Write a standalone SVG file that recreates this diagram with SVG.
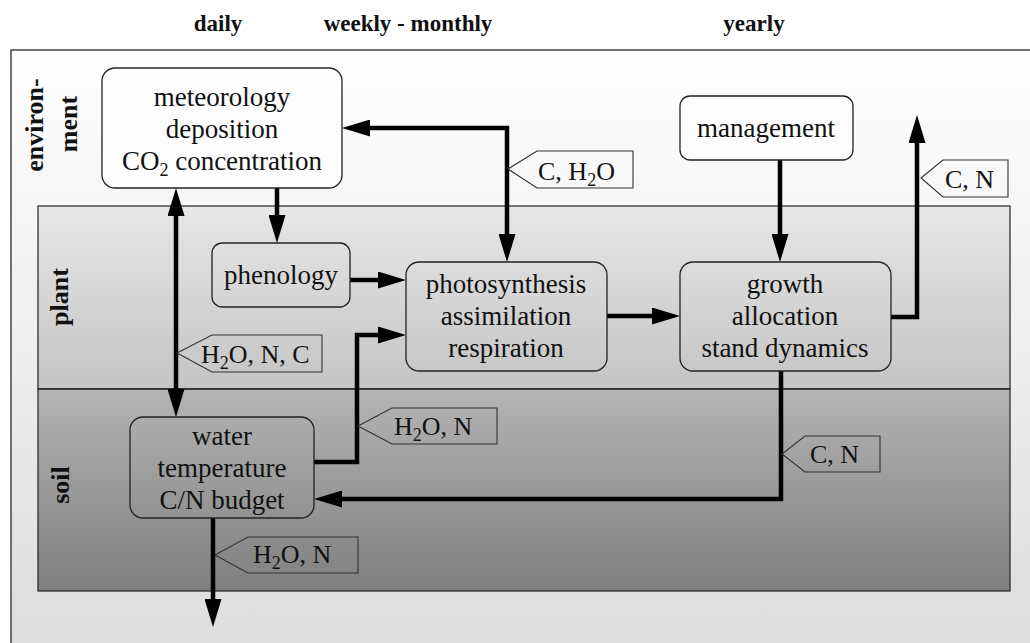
<svg xmlns="http://www.w3.org/2000/svg" width="1030" height="643" viewBox="0 0 1030 643">
<defs>
<linearGradient id="gEnv" x1="0" y1="0" x2="0" y2="1"><stop offset="0" stop-color="#ffffff"/><stop offset="1" stop-color="#dcdcdc"/></linearGradient>
<linearGradient id="gPlant" x1="0" y1="0" x2="0" y2="1"><stop offset="0" stop-color="#e7e7e7"/><stop offset="1" stop-color="#c4c4c4"/></linearGradient>
<linearGradient id="gSoil" x1="0" y1="0" x2="0" y2="1"><stop offset="0" stop-color="#b4b4b4"/><stop offset="1" stop-color="#7f7f7f"/></linearGradient>
<marker id="ah" viewBox="0 0 28 17" markerWidth="28" markerHeight="17" refX="4" refY="8.5" orient="auto-start-reverse" markerUnits="userSpaceOnUse"><path d="M0,0 L28,8.5 L0,17 z" fill="#000"/></marker>
</defs>
<style>
text{font-family:"Liberation Serif","Times New Roman",serif;fill:#111}
.hdr{font-weight:bold;font-size:23px;text-anchor:middle}
.side{font-weight:bold;font-size:26px;text-anchor:middle}
.t{font-size:27px;text-anchor:middle}
.lbl{font-size:26px;text-anchor:start}
.sub{font-size:18px}
.box{stroke:#222;stroke-width:1.3;fill:none}
.wbox{stroke:#222;stroke-width:1.3;fill:#fdfdfd}
.tag{stroke:#333;stroke-width:1.1;fill:none}
.con{stroke:#000;stroke-width:4.5;fill:none;marker-end:url(#ah)}
.dbl{marker-start:url(#ah)}
</style>
<g id="background">
<rect x="11" y="50" width="1030" height="610" fill="url(#gEnv)" stroke="#444" stroke-width="1.5"/>
<rect x="38" y="206" width="972" height="183" fill="url(#gPlant)" stroke="#222" stroke-width="1.2"/>
<rect x="38" y="389" width="972" height="202" fill="url(#gSoil)" stroke="#222" stroke-width="1.2"/>
<line x1="38" y1="389" x2="1010" y2="389" stroke="#333" stroke-width="1.5"/>
</g>
<g id="headers">
<text class="hdr" x="218" y="31">daily</text>
<text class="hdr" x="408" y="31">weekly - monthly</text>
<text class="hdr" x="754" y="31">yearly</text>
</g>
<g id="zone-labels">
<text class="side" transform="translate(43,125) rotate(-90)">environ-</text>
<text class="side" transform="translate(77,124) rotate(-90)">ment</text>
<text class="side" transform="translate(68,297) rotate(-90)">plant</text>
<text class="side" transform="translate(69,485) rotate(-90)">soil</text>
</g>
<g id="connectors">
<path class="con dbl" d="M176,212 L176,393"/>
<path class="con" d="M277,188 L277,219"/>
<path class="con dbl" d="M366,128 L507,128 L507,238"/>
<path class="con" d="M350,280 L382,280"/>
<path class="con" d="M607,316 L656,316"/>
<path class="con" d="M780,160 L780,238"/>
<path class="con" d="M891,317 L917,317 L917,139"/>
<path class="con" d="M314,462 L357,462 L357,335 L382,335"/>
<path class="con" d="M781,371 L781,499 L338,499"/>
<path class="con" d="M213,518 L213,603"/>
</g>
<g id="tags">
<g id="tag-c-h2o"><path class="tag" d="M508,169 L537,151 L633,151 L633,188 L537,188 Z"/><text class="lbl" x="538" y="180">C, H<tspan class="sub" dy="6">2</tspan><tspan dy="-6">O</tspan></text></g>
<g id="tag-c-n-top"><path class="tag" d="M921,178 L943,160 L1008,160 L1008,197 L943,197 Z"/><text class="lbl" x="945" y="188">C, N</text></g>
<g id="tag-h2o-n-c"><path class="tag" d="M177,353 L212,335 L322,335 L322,372 L212,372 Z"/><text class="lbl" x="201" y="363">H<tspan class="sub" dy="6">2</tspan><tspan dy="-6">O, N, C</tspan></text></g>
<g id="tag-h2o-n-mid"><path class="tag" d="M358,426 L392,408 L497,408 L497,444 L392,444 Z"/><text class="lbl" x="394" y="435">H<tspan class="sub" dy="6">2</tspan><tspan dy="-6">O, N</tspan></text></g>
<g id="tag-c-n-low"><path class="tag" d="M782,454 L805,436 L880,436 L880,472 L805,472 Z"/><text class="lbl" x="810" y="463">C, N</text></g>
<g id="tag-h2o-n-bot"><path class="tag" d="M215,555 L248,537 L358,537 L358,573 L248,573 Z"/><text class="lbl" x="253" y="563">H<tspan class="sub" dy="6">2</tspan><tspan dy="-6">O, N</tspan></text></g>
</g>
<g id="node-meteorology">
<rect class="wbox" x="102" y="68" width="240" height="120" rx="13"/>
<text class="t" x="222" y="106">meteorology</text>
<text class="t" x="222" y="138">deposition</text>
<text class="t" x="222" y="170">CO<tspan class="sub" dy="6">2</tspan><tspan dy="-6"> concentration</tspan></text>
</g>
<g id="node-management">
<rect class="wbox" x="680" y="96" width="173" height="64" rx="10"/>
<text class="t" x="766" y="137">management</text>
</g>
<g id="node-phenology">
<rect class="box" x="212" y="243" width="138" height="64" rx="10"/>
<text class="t" x="281" y="284">phenology</text>
</g>
<g id="node-photosynthesis">
<rect class="box" x="406" y="262" width="201" height="109" rx="13"/>
<text class="t" x="506" y="293">photosynthesis</text>
<text class="t" x="506" y="325">assimilation</text>
<text class="t" x="506" y="357">respiration</text>
</g>
<g id="node-growth">
<rect class="box" x="680" y="262" width="211" height="109" rx="13"/>
<text class="t" x="785" y="293">growth</text>
<text class="t" x="785" y="325">allocation</text>
<text class="t" x="785" y="357">stand dynamics</text>
</g>
<g id="node-soil">
<rect class="box" x="130" y="417" width="184" height="101" rx="13"/>
<text class="t" x="222" y="445">water</text>
<text class="t" x="222" y="477">temperature</text>
<text class="t" x="222" y="509">C/N budget</text>
</g>
</svg>
